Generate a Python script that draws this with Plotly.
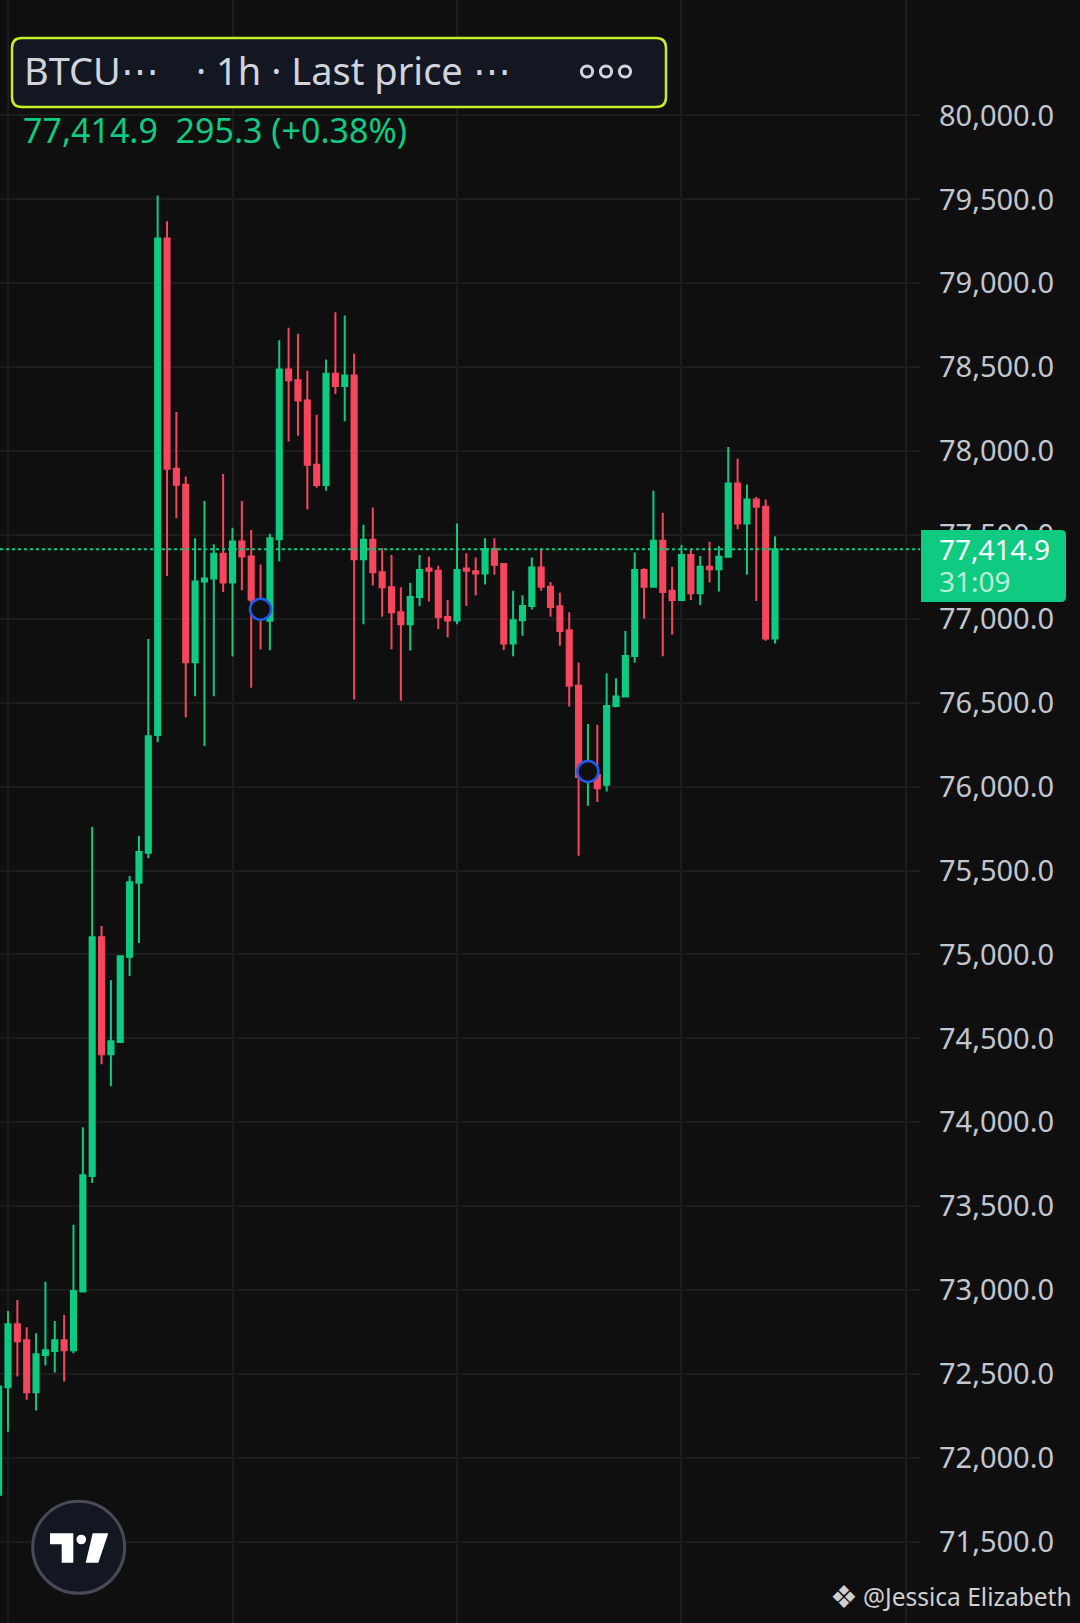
import plotly.graph_objects as go

W, H = 1080, 1623

# --- data (1h candles, BTCUSDT) ---
hours = list(range(84))
open_ = [71780, 72421, 72797, 72701, 72391, 72613, 72637, 72701, 72641, 72991,
         73680, 75103, 74406, 74479, 74986, 75427, 75606, 76308, 79267, 77895,
         77799, 76742, 77222, 77240, 77388, 77217, 77461, 77372, 77114, 76989,
         77475, 78486, 78422, 78301, 77918, 77797, 78461, 78388, 78450, 77355,
         77472, 77278, 77188, 77039, 76968, 77131, 77300, 77287, 77011, 76990,
         77300, 77284, 77271, 77416, 77327, 76853, 76992, 77077, 77306, 77192,
         77075, 76932, 76601, 76048, 76070, 76011, 76480, 76538, 76779, 77291,
         77192, 77465, 77167, 77113, 77380, 77152, 77310, 77295, 77370, 77807,
         77568, 77711, 77668, 76883]
high = [72440, 72875, 72941, 72779, 72743, 73049, 72815, 72851, 73390, 73970,
        75759, 75169, 74847, 74996, 75467, 75706, 76880, 79523, 79370, 78233,
        77849, 77480, 77703, 77445, 77863, 77543, 77703, 77530, 77324, 77507,
        78660, 78735, 78699, 78479, 78217, 78546, 78827, 78808, 78582, 77561,
        77664, 77423, 77380, 77188, 77214, 77380, 77370, 77316, 77113, 77568,
        77391, 77365, 77480, 77480, 77327, 77167, 77141, 77365, 77416, 77220,
        77156, 77039, 76740, 76373, 76369, 76676, 76646, 76928, 77395, 77301,
        77764, 77632, 77310, 77440, 77412, 77374, 77459, 77434, 78024, 77956,
        77800, 77726, 77711, 77491]
low = [71760, 72156, 72485, 72347, 72282, 72551, 72509, 72455, 72623, 72985,
       73638, 74346, 74215, 74479, 74871, 75068, 75575, 76265, 77256, 77600,
       76413, 76539, 76242, 76539, 77160, 76776, 77171, 76589, 76817, 76813,
       77343, 78057, 78091, 77651, 77781, 77763, 78340, 78178, 76520, 76968,
       77199, 77013, 76819, 76512, 76811, 77077, 77103, 76939, 76890, 76968,
       77077, 77139, 77205, 77263, 76815, 76777, 76900, 77056, 77167, 77013,
       76840, 76478, 75588, 75887, 75908, 75971, 76474, 76538, 76739, 77002,
       77188, 76777, 76905, 77113, 77113, 77082, 77216, 77163, 77370, 77534,
       77263, 77107, 76870, 76853]
close = [72425, 72797, 72695, 72391, 72617, 72641, 72701, 72641, 72995, 73684,
         75103, 74406, 74483, 74990, 75431, 75610, 76300, 79267, 77895, 77799,
         76742, 77222, 77240, 77388, 77217, 77461, 77372, 77114, 77020, 77480,
         78486, 78422, 78301, 77918, 77797, 78461, 78388, 78450, 77355, 77472,
         77278, 77188, 77039, 76968, 77131, 77291, 77287, 77011, 76990, 77291,
         77287, 77271, 77416, 77322, 76853, 76992, 77077, 77306, 77192, 77071,
         76928, 76601, 76058, 76070, 75990, 76480, 76538, 76779, 77291, 77192,
         77465, 77160, 77113, 77380, 77152, 77310, 77295, 77370, 77807, 77568,
         77711, 77668, 76883, 77414.9]

marker_hours = [28, 63]
marker_prices = [77057, 76090]

price_ticks = [71500, 72000, 72500, 73000, 73500, 74000, 74500, 75000, 75500,
               76000, 76500, 77000, 77500, 78000, 78500, 79000, 79500, 80000]

symbol_text = "BTCU\u22ef"
interval_text = "\u00b7 1h \u00b7 Last price \u22ef"
day_change = 295.3
day_change_pct = 0.38
countdown = "31:09"
watermark = "@Jessica Elizabeth"

# --- style ---
GREEN = "#0ECB81"
RED = "#F6465D"
BG = "#0F0F0F"
GRID = "#1C1C1C"
TEXT = "#C3C6CC"
FONT = "Noto Sans"
PANE_RIGHT = 920  # px where the price scale starts


def px(x):
    return x / W


def py(y):
    return 1 - y / H


def poly(points):
    s = "M {} {}".format(px(points[0][0]), py(points[0][1]))
    for x, y in points[1:]:
        s += " L {} {}".format(px(x), py(y))
    return s + " Z"


def rrect(x0, y0, x1, y1, rl, rr):
    """rounded rect path in paper coords, rl/rr = left/right corner radius"""
    p = lambda x, y: "{} {}".format(px(x), py(y))
    return ("M " + p(x0 + rl, y0) + " L " + p(x1 - rr, y0) +
            " Q " + p(x1, y0) + " " + p(x1, y0 + rr) +
            " L " + p(x1, y1 - rr) +
            " Q " + p(x1, y1) + " " + p(x1 - rr, y1) +
            " L " + p(x0 + rl, y1) +
            " Q " + p(x0, y1) + " " + p(x0, y1 - rl) +
            " L " + p(x0, y0 + rl) +
            " Q " + p(x0, y0) + " " + p(x0 + rl, y0) + " Z")


def circle(cx, cy, r, **kw):
    return dict(type="circle", xref="paper", yref="paper",
                x0=px(cx - r), x1=px(cx + r), y0=py(cy + r), y1=py(cy - r),
                layer="above", **kw)


fig = go.Figure()

fig.add_trace(go.Candlestick(
    x=hours, open=open_, high=high, low=low, close=close,
    increasing=dict(line=dict(color=GREEN, width=2), fillcolor=GREEN),
    decreasing=dict(line=dict(color=RED, width=2), fillcolor=RED),
    whiskerwidth=0, hoverinfo="none",
))

fig.add_trace(go.Scatter(
    x=marker_hours, y=marker_prices, mode="markers",
    marker=dict(size=21, color=BG, line=dict(color="#1C5BF0", width=2.5)),
    hoverinfo="skip",
))

last = close[-1]

shapes = [
    # last price dotted line
    dict(type="line", xref="paper", yref="y", x0=0, x1=px(PANE_RIGHT),
         y0=last, y1=last, line=dict(color=GREEN, width=2, dash="dot"),
         layer="above"),
    # header box
    dict(type="path", xref="paper", yref="paper",
         path=rrect(12, 38, 666, 107, 10, 10),
         fillcolor="#131722", line=dict(color="#C6F024", width=2.5),
         layer="above"),
    # price tag
    dict(type="path", xref="paper", yref="paper",
         path=rrect(921, 530, 1066, 602, 0, 5),
         fillcolor=GREEN, line=dict(width=0), layer="above"),
    # TradingView logo
    circle(78.7, 1547.3, 46, fillcolor="#131722",
           line=dict(color="#474B55", width=3)),
    dict(type="path", xref="paper", yref="paper",
         path=poly([(50, 1533.3), (73.3, 1533.3), (73.3, 1562.7),
                    (61.7, 1562.7), (61.7, 1544.3), (50, 1544.3)]),
         fillcolor="white", line=dict(width=0), layer="above"),
    circle(81.3, 1539.5, 4.8, fillcolor="white", line=dict(width=0)),
    dict(type="path", xref="paper", yref="paper",
         path=poly([(92.7, 1533.3), (108.3, 1533.3), (98.3, 1562.7),
                    (85.7, 1562.7)]),
         fillcolor="white", line=dict(width=0), layer="above"),
]
# "more" icon (three rings)
for cx in (587, 606, 625):
    shapes.append(circle(cx, 71.5, 5.6, line=dict(color="#D1D4DC", width=3)))


def label(x, y, text, size, color, anchor="left"):
    return dict(xref="paper", yref="paper", x=px(x), y=py(y), text=text,
                showarrow=False, xanchor=anchor, yanchor="middle",
                font=dict(family=FONT, size=size, color=color))


annotations = [
    label(22, 70, symbol_text, 38, "#D1D4DC"),
    label(194, 70, interval_text, 38, "#D1D4DC"),
    label(21, 130, "{:,.1f} \u00a0{:,.1f} (+{:.2f}%)".format(
        last, day_change, day_change_pct), 34, GREEN),
    label(937, 549, "{:,.1f}".format(last), 28, "white"),
    label(937, 581, countdown, 28, "rgba(255,255,255,0.72)"),
    label(844, 1596, "\u2756", 31, "#CFCFCF", anchor="center"),
    label(861, 1596, watermark, 24.5, "#CFCFCF"),
]

fig.update_layout(
    width=W, height=H,
    margin=dict(l=0, r=0, t=0, b=0),
    paper_bgcolor=BG, plot_bgcolor=BG,
    showlegend=False,
    boxgap=0.22,
    font=dict(family=FONT),
    xaxis=dict(
        domain=[0, px(PANE_RIGHT)], range=[0.144, 98.5],
        showticklabels=False, ticks="", showgrid=True, gridcolor=GRID,
        gridwidth=2, tick0=1, dtick=24, zeroline=False, showline=False,
        rangeslider=dict(visible=False), fixedrange=True,
    ),
    yaxis=dict(
        side="right", range=[71016, 80688], tickvals=price_ticks,
        tickformat=",.1f", ticks="", ticklabelstandoff=18,
        tickfont=dict(family=FONT, size=29, color=TEXT),
        showgrid=True, gridcolor=GRID, gridwidth=2, zeroline=False,
        showline=False, automargin=False, fixedrange=True,
    ),
    shapes=shapes,
    annotations=annotations,
)

fig.write_html("out.html",
               config={"displayModeBar": False},
               post_script="document.body.style.margin='0';"
                           "document.body.style.background='#0F0F0F';")
